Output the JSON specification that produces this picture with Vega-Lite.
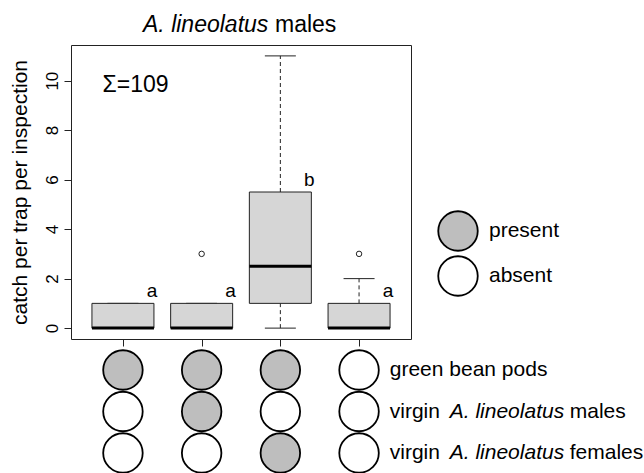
{
  "$schema": "https://vega.github.io/schema/vega-lite/v6.json",
  "width": 340,
  "height": 294,
  "autosize": {"type": "none"},
  "padding": {"left": 71, "top": 45, "right": 233, "bottom": 134},
  "background": "white",
  "config": {
    "font": "Liberation Sans",
    "view": {"stroke": "#222222", "strokeWidth": 1},
    "axis": {"grid": false, "tickColor": "#222222", "labelColor": "#000000", "titleColor": "#000000"}
  },
  "datasets": {
    "boxes": [
      {"cond": 1, "lower": 0, "q1": 0, "median": 0, "q3": 1, "upper": 1, "letter": "a"},
      {"cond": 2, "lower": 0, "q1": 0, "median": 0, "q3": 1, "upper": 1, "letter": "a"},
      {"cond": 3, "lower": 0, "q1": 1, "median": 2.5, "q3": 5.5, "upper": 11, "letter": "b"},
      {"cond": 4, "lower": 0, "q1": 0, "median": 0, "q3": 1, "upper": 2, "letter": "a"}
    ],
    "outliers": [
      {"cond": 2, "value": 3},
      {"cond": 4, "value": 3}
    ],
    "design": [
      {"cond": 1, "factor": "green bean pods", "status": "present"},
      {"cond": 1, "factor": "virgin A. lineolatus males", "status": "absent"},
      {"cond": 1, "factor": "virgin A. lineolatus females", "status": "absent"},
      {"cond": 2, "factor": "green bean pods", "status": "present"},
      {"cond": 2, "factor": "virgin A. lineolatus males", "status": "present"},
      {"cond": 2, "factor": "virgin A. lineolatus females", "status": "absent"},
      {"cond": 3, "factor": "green bean pods", "status": "present"},
      {"cond": 3, "factor": "virgin A. lineolatus males", "status": "absent"},
      {"cond": 3, "factor": "virgin A. lineolatus females", "status": "present"},
      {"cond": 4, "factor": "green bean pods", "status": "absent"},
      {"cond": 4, "factor": "virgin A. lineolatus males", "status": "absent"},
      {"cond": 4, "factor": "virgin A. lineolatus females", "status": "absent"}
    ],
    "labels": [
      {"factor": "green bean pods", "a": "green bean pods"},
      {"factor": "virgin A. lineolatus males", "a": "virgin", "b": "A. lineolatus", "c": "males"},
      {"factor": "virgin A. lineolatus females", "a": "virgin", "b": "A. lineolatus", "c": "females"}
    ],
    "annotations": [
      {"total": "Σ=109", "species": "A. lineolatus", "sex": "males"}
    ]
  },
  "layer": [
    {
      "layer": [
        {
          "data": {"name": "boxes"},
          "mark": {"type": "rule", "color": "#222222", "strokeWidth": 1, "strokeDash": [4, 3]},
          "encoding": {
            "x": {"field": "cond", "type": "quantitative", "scale": {"domain": [0.34, 4.66], "nice": false, "zero": false, "padding": 0},
              "axis": {"values": [1, 2, 3, 4], "labels": false, "domain": false, "tickSize": 7, "title": null}},
            "y": {"field": "lower", "type": "quantitative", "scale": {"domain": [-0.44, 11.44], "nice": false, "zero": false, "padding": 0},
              "axis": {"values": [0, 2, 4, 6, 8, 10], "domain": false, "tickSize": 7, "labelFontSize": 17, "labelAngle": -90, "labelAlign": "center", "labelBaseline": "bottom", "labelPadding": 3,
                "title": "catch per trap per inspection", "titleFontSize": 21, "titleFontWeight": "normal", "titlePadding": 13}},
            "y2": {"field": "q1"}
          }
        },
        {
          "data": {"name": "boxes"},
          "mark": {"type": "rule", "color": "#222222", "strokeWidth": 1, "strokeDash": [4, 3]},
          "encoding": {
            "x": {"field": "cond", "type": "quantitative", "scale": {"domain": [0.34, 4.66], "nice": false, "zero": false, "padding": 0}},
            "y": {"field": "q3", "type": "quantitative", "scale": {"domain": [-0.44, 11.44], "nice": false, "zero": false, "padding": 0}},
            "y2": {"field": "upper"}
          }
        },
        {
          "data": {"name": "boxes"},
          "mark": {"type": "tick", "orient": "horizontal", "size": 31, "thickness": 1, "color": "#222222", "opacity": 1},
          "encoding": {
            "x": {"field": "cond", "type": "quantitative", "scale": {"domain": [0.34, 4.66], "nice": false, "zero": false, "padding": 0}},
            "y": {"field": "lower", "type": "quantitative", "scale": {"domain": [-0.44, 11.44], "nice": false, "zero": false, "padding": 0}}
          }
        },
        {
          "data": {"name": "boxes"},
          "mark": {"type": "tick", "orient": "horizontal", "size": 31, "thickness": 1, "color": "#222222", "opacity": 1},
          "encoding": {
            "x": {"field": "cond", "type": "quantitative", "scale": {"domain": [0.34, 4.66], "nice": false, "zero": false, "padding": 0}},
            "y": {"field": "upper", "type": "quantitative", "scale": {"domain": [-0.44, 11.44], "nice": false, "zero": false, "padding": 0}}
          }
        },
        {
          "data": {"name": "boxes"},
          "mark": {"type": "bar", "orient": "vertical", "width": 62, "fill": "#d6d6d6", "stroke": "#222222", "strokeWidth": 1},
          "encoding": {
            "x": {"field": "cond", "type": "quantitative", "scale": {"domain": [0.34, 4.66], "nice": false, "zero": false, "padding": 0}},
            "y": {"field": "q1", "type": "quantitative", "scale": {"domain": [-0.44, 11.44], "nice": false, "zero": false, "padding": 0}},
            "y2": {"field": "q3"}
          }
        },
        {
          "data": {"name": "boxes"},
          "mark": {"type": "tick", "orient": "horizontal", "size": 62, "thickness": 3, "color": "#000000", "opacity": 1},
          "encoding": {
            "x": {"field": "cond", "type": "quantitative", "scale": {"domain": [0.34, 4.66], "nice": false, "zero": false, "padding": 0}},
            "y": {"field": "median", "type": "quantitative", "scale": {"domain": [-0.44, 11.44], "nice": false, "zero": false, "padding": 0}}
          }
        },
        {
          "data": {"name": "boxes"},
          "mark": {"type": "text", "fontSize": 19, "dx": 29, "dy": -12, "align": "center", "baseline": "middle", "color": "#000000"},
          "encoding": {
            "x": {"field": "cond", "type": "quantitative", "scale": {"domain": [0.34, 4.66], "nice": false, "zero": false, "padding": 0}},
            "y": {"field": "q3", "type": "quantitative", "scale": {"domain": [-0.44, 11.44], "nice": false, "zero": false, "padding": 0}},
            "text": {"field": "letter"}
          }
        },
        {
          "data": {"name": "outliers"},
          "mark": {"type": "point", "shape": "circle", "filled": false, "size": 30, "stroke": "#222222", "strokeWidth": 1, "opacity": 1},
          "encoding": {
            "x": {"field": "cond", "type": "quantitative", "scale": {"domain": [0.34, 4.66], "nice": false, "zero": false, "padding": 0}},
            "y": {"field": "value", "type": "quantitative", "scale": {"domain": [-0.44, 11.44], "nice": false, "zero": false, "padding": 0}}
          }
        },
        {
          "data": {"name": "annotations"},
          "mark": {"type": "text", "fontSize": 23, "align": "left", "baseline": "middle", "color": "#000000"},
          "encoding": {
            "x": {"datum": 0.74, "type": "quantitative", "scale": {"domain": [0.34, 4.66], "nice": false, "zero": false, "padding": 0}},
            "y": {"datum": 9.83, "type": "quantitative", "scale": {"domain": [-0.44, 11.44], "nice": false, "zero": false, "padding": 0}},
            "text": {"field": "total"}
          }
        },
        {
          "data": {"name": "annotations"},
          "mark": {"type": "text", "fontSize": 23, "fontStyle": "italic", "align": "left", "baseline": "alphabetic", "color": "#000000"},
          "encoding": {
            "x": {"datum": 1.255, "type": "quantitative", "scale": {"domain": [0.34, 4.66], "nice": false, "zero": false, "padding": 0}},
            "y": {"datum": 11.96, "type": "quantitative", "scale": {"domain": [-0.44, 11.44], "nice": false, "zero": false, "padding": 0}},
            "text": {"field": "species"}
          }
        },
        {
          "data": {"name": "annotations"},
          "mark": {"type": "text", "fontSize": 23, "dx": 132, "align": "left", "baseline": "alphabetic", "color": "#000000"},
          "encoding": {
            "x": {"datum": 1.255, "type": "quantitative", "scale": {"domain": [0.34, 4.66], "nice": false, "zero": false, "padding": 0}},
            "y": {"datum": 11.96, "type": "quantitative", "scale": {"domain": [-0.44, 11.44], "nice": false, "zero": false, "padding": 0}},
            "text": {"field": "sex"}
          }
        }
      ]
    },
    {
      "layer": [
        {
          "data": {"name": "design"},
          "mark": {"type": "point", "shape": "circle", "filled": true, "size": 1560, "stroke": "#000000", "strokeWidth": 1.8, "opacity": 1},
          "encoding": {
            "x": {"field": "cond", "type": "quantitative", "scale": {"domain": [0.34, 4.66], "nice": false, "zero": false, "padding": 0}},
            "y": {"field": "factor", "type": "nominal", "sort": null,
              "scale": {"type": "point", "domain": ["green bean pods", "virgin A. lineolatus males", "virgin A. lineolatus females"], "range": [325, 408], "padding": 0}, "axis": null},
            "fill": {"field": "status", "type": "nominal",
              "scale": {"domain": ["present", "absent"], "range": ["#bebebe", "#ffffff"]},
              "legend": {"orient": "none", "legendX": 366, "legendY": 165, "title": null, "padding": 0,
                "symbolType": "circle", "symbolSize": 1560, "symbolStrokeColor": "#000000", "symbolStrokeWidth": 1.8, "symbolOpacity": 1,
                "labelFontSize": 21, "labelOffset": 10, "labelColor": "#000000", "rowPadding": -10}}
          }
        },
        {
          "data": {"name": "labels"},
          "mark": {"type": "text", "fontSize": 21, "align": "left", "baseline": "middle", "color": "#000000"},
          "encoding": {
            "x": {"datum": 4.39, "type": "quantitative", "scale": {"domain": [0.34, 4.66], "nice": false, "zero": false, "padding": 0}},
            "y": {"field": "factor", "type": "nominal", "sort": null,
              "scale": {"type": "point", "domain": ["green bean pods", "virgin A. lineolatus males", "virgin A. lineolatus females"], "range": [325, 408], "padding": 0}, "axis": null},
            "text": {"field": "a"}
          }
        },
        {
          "data": {"name": "labels"},
          "transform": [{"filter": "isValid(datum.b)"}],
          "mark": {"type": "text", "fontSize": 21, "fontStyle": "italic", "dx": 60, "align": "left", "baseline": "middle", "color": "#000000"},
          "encoding": {
            "x": {"datum": 4.39, "type": "quantitative", "scale": {"domain": [0.34, 4.66], "nice": false, "zero": false, "padding": 0}},
            "y": {"field": "factor", "type": "nominal", "sort": null,
              "scale": {"type": "point", "domain": ["green bean pods", "virgin A. lineolatus males", "virgin A. lineolatus females"], "range": [325, 408], "padding": 0}, "axis": null},
            "text": {"field": "b"}
          }
        },
        {
          "data": {"name": "labels"},
          "transform": [{"filter": "isValid(datum.c)"}],
          "mark": {"type": "text", "fontSize": 21, "dx": 180, "align": "left", "baseline": "middle", "color": "#000000"},
          "encoding": {
            "x": {"datum": 4.39, "type": "quantitative", "scale": {"domain": [0.34, 4.66], "nice": false, "zero": false, "padding": 0}},
            "y": {"field": "factor", "type": "nominal", "sort": null,
              "scale": {"type": "point", "domain": ["green bean pods", "virgin A. lineolatus males", "virgin A. lineolatus females"], "range": [325, 408], "padding": 0}, "axis": null},
            "text": {"field": "c"}
          }
        }
      ]
    }
  ],
  "resolve": {"scale": {"y": "independent"}, "axis": {"y": "independent"}}
}
